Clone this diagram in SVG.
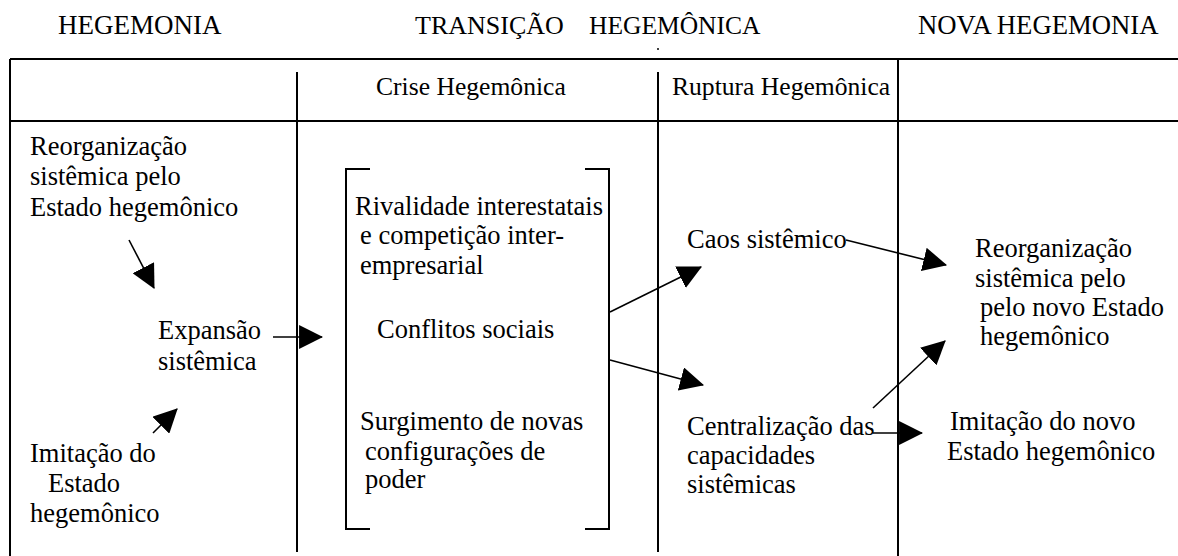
<svg xmlns="http://www.w3.org/2000/svg" width="1178" height="556" viewBox="0 0 1178 556">
<style>
text{font-family:"Liberation Serif","Times New Roman","DejaVu Serif",serif;font-size:26.5px;fill:#000}
.title{font-size:27px}
.hdr{font-size:25.6px}
.frame{stroke:#000;stroke-width:2;fill:none}
.br{stroke:#000;stroke-width:2;fill:none}
.arr{stroke:#000;stroke-width:1.6;fill:none;marker-end:url(#ah)}
</style>
<defs>
<marker id="ah" markerUnits="userSpaceOnUse" markerWidth="24" markerHeight="24" viewBox="0 0 22 22" refX="21" refY="11" orient="auto">
<path d="M0,0 L22,11 L0,22 z" fill="#000"/>
</marker>
</defs>
<rect width="1178" height="556" fill="#fff"/>
<g id="titles">
<text class="title" x="58" y="34">HEGEMONIA</text>
<text class="title" x="415" y="34" style="font-size:26px">TRANSIÇÃO</text>
<text class="title" x="589" y="34" style="font-size:25.5px">HEGEMÔNICA</text>
<text class="title" x="918" y="34" style="font-size:26.7px">NOVA HEGEMONIA</text>
<circle cx="658" cy="49" r="1" fill="#000"/>
</g>
<g id="table">
<line class="frame" x1="10" y1="59" x2="1178" y2="59"/>
<line class="frame" x1="10" y1="121" x2="1178" y2="121"/>
<line class="frame" x1="10" y1="59" x2="10" y2="556"/>
<line class="frame" x1="297" y1="72" x2="297" y2="552"/>
<line class="frame" x1="658" y1="72" x2="658" y2="552"/>
<line class="frame" x1="898" y1="59" x2="898" y2="556"/>
<text class="hdr" x="376" y="95">Crise Hegemônica</text>
<text class="hdr" x="672" y="95">Ruptura Hegemônica</text>
</g>
<g id="reorganizacao">
<text x="30" y="155">Reorganização</text>
<text x="30" y="185">sistêmica pelo</text>
<text x="30" y="216">Estado hegemônico</text>
</g>
<g id="expansao">
<text x="158" y="339">Expansão</text>
<text x="158" y="370">sistêmica</text>
</g>
<g id="imitacao">
<text x="30" y="462">Imitação do</text>
<text x="48" y="492">Estado</text>
<text x="30" y="522">hegemônico</text>
</g>
<g id="crise">
<path class="br" d="M370,169 H346 V529 H370"/>
<path class="br" d="M585,169 H609 V529 H585"/>
<text x="355" y="215">Rivalidade interestatais</text>
<text x="360" y="244">e competição inter-</text>
<text x="360" y="274">empresarial</text>
<text x="377" y="338">Conflitos sociais</text>
<text x="360" y="430">Surgimento de novas</text>
<text x="365" y="460">configurações de</text>
<text x="365" y="488">poder</text>
</g>
<g id="caos">
<text x="687" y="248">Caos sistêmico</text>
</g>
<g id="centralizacao">
<text x="687" y="435">Centralização das</text>
<text x="687" y="464">capacidades</text>
<text x="687" y="493">sistêmicas</text>
</g>
<g id="nova-reorganizacao">
<text x="975" y="257">Reorganização</text>
<text x="975" y="287">sistêmica pelo</text>
<text x="980" y="316">pelo novo Estado</text>
<text x="980" y="345">hegemônico</text>
</g>
<g id="nova-imitacao">
<text x="950" y="430">Imitação do novo</text>
<text x="947" y="460">Estado hegemônico</text>
</g>
<g id="connectors">
<line class="arr" x1="129" y1="240" x2="154" y2="288"/>
<line class="arr" x1="153" y1="433" x2="177" y2="409"/>
<line class="arr" x1="273" y1="337" x2="322" y2="337"/>
<line class="arr" x1="610" y1="312" x2="701" y2="267"/>
<line class="arr" x1="610" y1="360" x2="703" y2="385"/>
<line class="arr" x1="846" y1="240" x2="946" y2="265"/>
<line class="arr" x1="873" y1="408" x2="945" y2="341"/>
<line class="arr" x1="873" y1="433" x2="922" y2="433"/>
</g>
</svg>
